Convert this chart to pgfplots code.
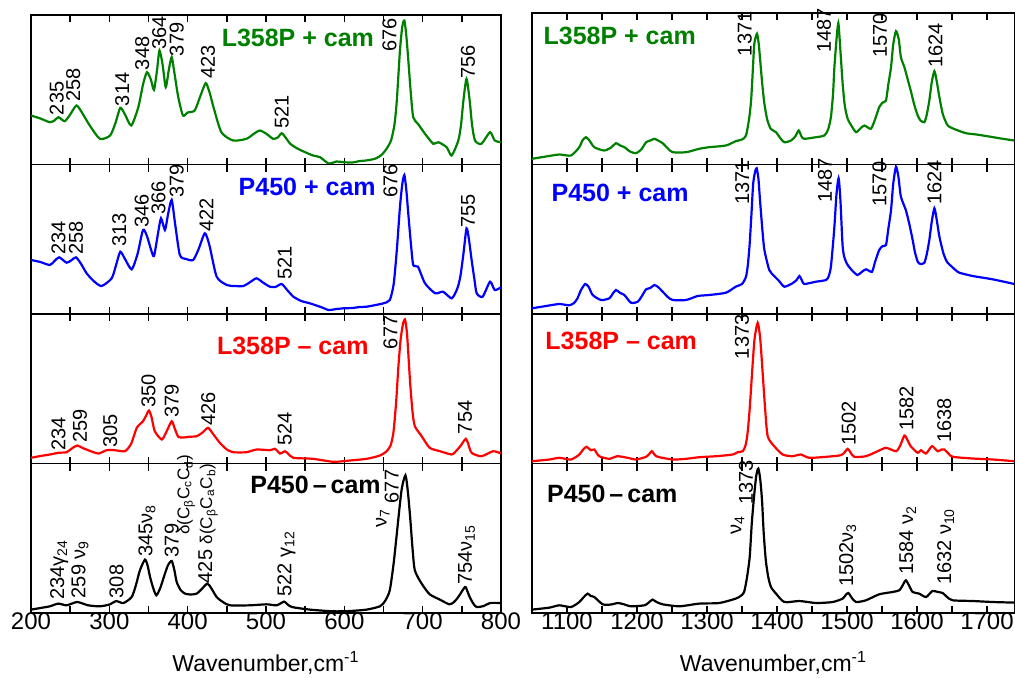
\documentclass[border=0pt]{standalone}
\usepackage{fontspec}
\setmainfont{Liberation Sans}
\usepackage{pgfplots}
\pgfplotsset{compat=1.18}
\definecolor{dgreen}{RGB}{0,128,0}
\newcommand\lab{\fontsize{10}{12}\selectfont}
\newcommand\dlab{\fontsize{8.5}{10}\selectfont}
\newcommand\ttl{\bfseries\fontsize{12.5}{15}\selectfont}
\newcommand\pl[3]{\node[rotate=90,anchor=west,inner sep=0pt,font=\lab] at (axis cs:#1,#2) {#3};}
\pgfplotsset{
  panel/.style={scale only axis, height=74.75pt, ymin=0, ymax=149.5, ytick=\empty, clip=false,
    tick align=inside, major tick length=3.5pt, minor tick length=3.5pt,
    axis line style={line width=0.9pt}, every tick/.style={black, line width=0.7pt},
    /pgf/number format/assume math mode=true, /pgf/number format/set thousands separator={},
    anchor=south west,
    every axis plot/.append style={line width=1.1pt, mark=none, smooth, tension=0.4},
    xticklabel style={font=\fontsize{12}{14}\selectfont, anchor=base, yshift=-8.4pt},
    xlabel style={font=\fontsize{11.5}{14}\selectfont, at={(axis description cs:0.5,0)}, anchor=base, yshift=-29pt}},
  leftp/.style={panel, width=235pt, xmin=200, xmax=800, xtick={200,300,...,800}, minor xtick={250,350,...,750}},
  rightp/.style={panel, width=241.5pt, xmin=1050, xmax=1740, xtick={1100,1200,...,1700}, minor xtick={1150,1250,...,1650}},
  notl/.style={xticklabels={}},
}
\begin{document}
\begin{tikzpicture}
\path[use as bounding box] (-15.5pt,-32pt) rectangle (492pt,306.5pt);
% ---------------- left column ----------------
\begin{axis}[leftp, notl, at={(0pt,224.25pt)}]
\addplot[dgreen] coordinates {(200,49) (212,46) (224,42.3) (230,44) (235,47.3) (243,43.3) (250,50) (258,59) (265,52) (275,39) (288,25.7) (301,29) (308,42) (314,56.7) (320,50) (328,39) (337,57.3) (343,80) (348,92.3) (353,85) (357,74.7) (361,95) (364,114) (368,100) (372,77.3) (376,95) (379.6,107.3) (383,92) (388,67.3) (394,49) (400,52) (409,54) (416,68) (423,81.3) (428,72) (433,57.3) (443,32.3) (458,24) (475,25.7) (485,31) (492,34) (500,31) (509,25.7) (515,27) (520,31.3) (525,27) (531,20.7) (540,16) (550,12.3) (560,9) (569,7.3) (580,1) (590,3) (599,2.3) (610,2) (620,3.5) (628,4) (640,6) (648,10) (655,17) (660,25) (664,40) (667,64) (671,114) (674,138) (676.6,144) (679,130) (681.7,104) (685,70) (688,47) (694,40.7) (703,30.7) (713.6,20.7) (720,22.3) (730.6,17.3) (737,9) (745.5,24) (749,40) (752,64) (756,85.7) (760,64) (763,40) (766.8,24) (775,20.7) (786,32.3) (792,24) (800,22.3)};
\node[anchor=west,inner sep=0pt,font=\ttl,text=dgreen] at (axis cs:443,126.7) {L358P + cam};
\pl{233}{49}{235}\pl{254}{62.3}{258}\pl{316.6}{58}{314}\pl{342}{94}{348}\pl{363.6}{114.7}{364}
\pl{386}{108}{379}\pl{426}{85.7}{423}\pl{520}{35.7}{521}\pl{657.5}{112.3}{676}\pl{758}{85.7}{756}
\end{axis}
\begin{axis}[leftp, notl, at={(0pt,149.5pt)}]
\addplot[blue] coordinates {(200,54) (212,52) (224,49) (230,53) (236,56.7) (245.5,51.3) (252,54) (257.4,56.7) (264,50) (271,40.7) (280,33) (290,28) (303,35.7) (309,50) (314,62.3) (320,55) (328.5,44.7) (336,60) (343,84) (348,78) (353,65) (357,58) (362,80) (366,95.7) (371,84) (375,100) (379.6,114) (384,90) (390,59) (398,55) (407,54) (414,65) (422,80.7) (428,68) (437,37.3) (450,29) (460,28) (471,28) (480,32) (488,35.7) (497,31) (505,27.3) (512,27) (520,30) (527,24) (535,17.3) (545,13) (556,10.7) (570,7) (580,4) (590,5) (599,5.7) (610,6) (620,7) (628.5,7.3) (640,9) (650,10.7) (658,14) (663,30) (667,64) (671,107) (674,130) (676.6,139) (679,125) (682,97) (685,70) (688,49) (694,47.3) (703,30.7) (716,20.7) (726,22.3) (737,15.7) (744,25) (748,37) (752,60) (756,85.7) (759,75) (762.5,54) (766,35) (769,20.7) (776.6,17.3) (786,32.3) (792,24) (800,26.7)};
\node[anchor=west,inner sep=0pt,font=\ttl,text=blue] at (axis cs:464.7,126.7) {P450 + cam};
\pl{235}{59}{234}\pl{257.4}{59}{258}\pl{312.8}{67.3}{313}\pl{341.3}{85.7}{346}\pl{362.6}{99}{366}
\pl{386}{115.7}{379}\pl{424}{82.3}{422}\pl{524}{34}{521}\pl{659}{115.7}{676}\pl{758}{85.7}{755}
\end{axis}
\begin{axis}[leftp, notl, at={(0pt,74.75pt)}]
\addplot[red] coordinates {(200,5.7) (212,7.5) (224,9) (235,10.7) (245.5,11.3) (252,15) (259,18) (266,15.5) (273,13.3) (286,10) (296.6,13.3) (307,13.3) (320,12.3) (328,20) (335,35.7) (343,42.3) (347,48) (350.6,53) (354,46) (358,32.3) (367,24) (373,32) (379.6,42.3) (383,36) (388,26.7) (395,26) (401,26.7) (411.5,27.3) (419,31) (426,35.7) (432,30) (441,20.7) (450,14) (458,11.3) (475,11.3) (488,14) (505,13.3) (511.5,14.7) (518,10) (524,12.3) (528,10) (535,5.7) (560,4.7) (586,1.7) (607,3) (628.5,4.7) (645.5,8) (654,12.3) (659,18) (662.6,30.7) (666,60) (669,97) (672,125) (675,140) (677.4,144) (680,130) (684,80.7) (687,52) (690,37.3) (698.7,27.3) (709,15.7) (722,12.3) (737,9) (742,12) (748,17.3) (755,24.7) (758,20) (762.5,10.7) (775,7.3) (790,12.3) (800,10)};
\node[anchor=west,inner sep=0pt,font=\ttl,text=red] at (axis cs:437,117.3) {L358P – cam};
\pl{235}{12.3}{234}\pl{262.5}{20.7}{259}\pl{301}{15.7}{305}\pl{350}{55.7}{350}\pl{379.6}{45.7}{379}
\pl{426.4}{37.3}{426}\pl{524}{17.3}{524}\pl{659}{114}{677}\pl{754}{29}{754}
\end{axis}
\begin{axis}[leftp, at={(0pt,0pt)}, xlabel={Wavenumber,cm\textsuperscript{-1}}]
\addplot[black] coordinates {(200,3.4) (212,5) (224,6.7) (235,9.4) (245.5,7.7) (259,11) (273,7.7) (288,6.7) (301,8.7) (308.5,12) (318,10) (328.5,16) (334,28) (339,42.7) (345.5,53.4) (349,47) (352,36) (356,25) (360,17.7) (365,25) (371,39.4) (375,48) (379.6,52) (383,43) (386,31) (391,23) (396.6,19.4) (404,18.5) (411.5,19.4) (418,24) (425,29.4) (430,25) (437,16) (445,11) (454,7.7) (479.6,7.7) (500.9,8.7) (513.6,7.7) (523,11.4) (527,9) (533,6) (556,3.4) (586,1.7) (607,2) (628.5,3.4) (645.5,6.7) (652,12) (658,22.7) (663,50) (667,79.4) (673,122.7) (678,137.7) (681,122) (684,96) (687,65) (690,42.7) (698.7,29.4) (709,18.7) (722,13.4) (734,8.7) (740,11) (745.5,16) (754,26) (757,22) (760,16) (765,9) (769,6) (778,7) (786,10) (800,10)};
\node[anchor=west,inner sep=0pt,font=\ttl] at (axis cs:479.6,127.7) {P450\kern0.16em–\kern0.16em cam};
\pl{236}{12.7}{234γ\textsubscript{24}}\pl{262.5}{14.4}{259 ν\textsubscript{9}}\pl{309}{14.4}{308}
\pl{348}{56}{345ν\textsubscript{8}}\pl{379.6}{55.4}{379}
\node[rotate=90,anchor=west,inner sep=0pt,font=\dlab] at (axis cs:398,77.7) {δ(C\textsubscript{β}C\textsubscript{c}C\textsubscript{d})};
\node[rotate=90,anchor=west,inner sep=0pt,font=\lab] at (axis cs:426,29.4) {425 {\dlab δ(C\textsubscript{β}C\textsubscript{a}C\textsubscript{b})}};
\pl{526}{16}{522 γ\textsubscript{12}}
\pl{649}{84.7}{ν\textsubscript{7}}\pl{660.4}{109.4}{677}
\pl{756}{27.7}{754ν\textsubscript{15}}
\end{axis}
% ---------------- right column ----------------
\begin{axis}[rightp, notl, at={(250.5pt,224.25pt)}, height=75.75pt, ymax=151.5]
\addplot[dgreen] coordinates {(1050,5.7) (1070,8) (1089,10) (1105.7,9) (1117.6,17.3) (1122,24) (1127,27.3) (1132,24) (1139,17.3) (1153,14) (1163,17) (1170,21.3) (1176,19) (1182,17.3) (1190,13) (1198.6,11.3) (1206,15) (1213,22.3) (1219,24) (1224.8,25.7) (1230,24) (1236.7,21.3) (1244,16) (1251,12.3) (1270,12.3) (1289,15.7) (1303,17.3) (1327,19) (1341,23.3) (1350,25) (1355.7,29) (1360,45) (1363,64) (1365.5,95) (1367.6,120.7) (1371.4,130.7) (1374,120) (1376,104) (1379,80) (1382,60.7) (1386,45) (1391,35.7) (1398.6,32.3) (1404,27) (1410.5,22.3) (1420,24) (1426,28) (1431,34) (1435,28) (1439,25.7) (1455.7,27.3) (1467.6,29) (1473,35) (1477,47.3) (1480,70) (1482,97.3) (1485,125) (1487.6,141.3) (1490,120) (1493.8,80.7) (1497,58) (1501,45.7) (1507,38) (1513,32.3) (1519,36) (1525,39) (1534,35.7) (1540,45) (1546,57.3) (1551,62) (1555.7,64) (1559,80) (1562.9,97.3) (1566,120) (1570,133.3) (1574,125) (1577,107.3) (1582,97.3) (1586,87) (1591,74) (1596,60) (1601,49) (1605,44) (1610.5,42.3) (1614,50) (1617.6,64) (1621,82) (1624.8,93.3) (1628,84) (1632,67.3) (1637,50) (1644,39) (1655,35) (1670,31.3) (1685,30) (1703,28) (1720,26) (1739,24)};
\node[anchor=west,inner sep=0pt,font=\ttl,text=dgreen] at (axis cs:1066,128.3) {L358P + cam};
\pl{1354}{108}{1371}\pl{1467}{111.5}{1487}\pl{1547}{106.5}{1570}\pl{1626.5}{96.5}{1624}
\end{axis}
\begin{axis}[rightp, notl, at={(250.5pt,149.5pt)}]
\addplot[blue] coordinates {(1050,5.7) (1070,8) (1089,10) (1103,8.7) (1110,11) (1115,15.7) (1120,24) (1126,30) (1131,27) (1136.7,19) (1148.6,14) (1160.5,15.7) (1165,20) (1170,24) (1176,21) (1182,19) (1191.4,11.3) (1201,12.3) (1207,18) (1213,24.7) (1219,26) (1224.8,29) (1230,27) (1236.7,22.3) (1244,17) (1251,14) (1270,14) (1286.7,18) (1303,19) (1327,21.3) (1341,27.3) (1350,30) (1355.7,37.3) (1358.5,50) (1361,70.7) (1363.5,100) (1366,130.7) (1369,143) (1371,145.7) (1373.5,135) (1375.7,114) (1379,85) (1382,64) (1389,44) (1396,38) (1403,33) (1410.5,27.3) (1422,30.7) (1428,34) (1432,38) (1436,33) (1439,30) (1455.7,32.3) (1470,34) (1474,38) (1477,47.3) (1480,70) (1482,87.3) (1485,120) (1488,135.7) (1490.5,115) (1493.8,67.3) (1497,55) (1501,49) (1508,43) (1515,39) (1521,42) (1527,44.7) (1535.7,42.3) (1540,52) (1546,64) (1551,68) (1555.7,69) (1559,85) (1562.9,104) (1566,130) (1570,147.3) (1573.5,137) (1577,117.3) (1584,104) (1589,90) (1593.8,74) (1597,62) (1601,52.3) (1605,50) (1610.5,51.3) (1614,60) (1617.6,74) (1621,92) (1624.8,105.7) (1628,95) (1632,77.3) (1638,60) (1643,52) (1648.6,48) (1655,44) (1660.5,41.3) (1679.5,38) (1708,34.7) (1739,30)};
\node[anchor=west,inner sep=0pt,font=\ttl,text=blue] at (axis cs:1077.5,120.7) {P450 + cam};
\pl{1350.5}{109}{1371}\pl{1468.5}{110.7}{1487}\pl{1546.5}{107.3}{1570}\pl{1624.8}{109}{1624}
\end{axis}
\begin{axis}[rightp, notl, at={(250.5pt,74.75pt)}]
\addplot[red] coordinates {(1050,2.3) (1075,4) (1089,5.7) (1105.7,4) (1117.6,9) (1123,14) (1128,16.7) (1134,13.3) (1139,14) (1146,7.3) (1160.5,4.7) (1172,7.3) (1186.7,5.7) (1198.6,4) (1213,6.7) (1217,9) (1221,12.3) (1225,9) (1229.5,6.7) (1251,4) (1270,4.7) (1289,6.3) (1313,7.3) (1336.7,9) (1343.8,11.3) (1351,12.3) (1355,18) (1358,30.7) (1361,55) (1365,97.3) (1368,125) (1372.4,140.7) (1376,125) (1379.5,90.7) (1383,55) (1386.7,27.3) (1396,17.3) (1408,9) (1422,7.3) (1434,9) (1446,5.7) (1470,6.7) (1489,8) (1495,10) (1501,14.7) (1505,11) (1510.5,6.7) (1527,7.3) (1543.8,12.3) (1555.7,15.7) (1570,12.3) (1576,18) (1582,28) (1586,24) (1591,17.3) (1601,10.7) (1605.7,13.3) (1612.9,10) (1621.4,17.3) (1629.5,12.3) (1635,14) (1639,14) (1645,10) (1651,6.7) (1679.5,5) (1708,4) (1739,2.3)};
\node[anchor=west,inner sep=0pt,font=\ttl,text=red] at (axis cs:1068.6,122.3) {L358P – cam};
\pl{1350}{104}{1373}\pl{1502.4}{17.3}{1502}\pl{1585}{32.3}{1582}\pl{1639}{20.7}{1638}
\end{axis}
\begin{axis}[rightp, at={(250.5pt,0pt)}, xlabel={Wavenumber,cm\textsuperscript{-1}}]
\addplot[black] coordinates {(1050,3.4) (1075,5.4) (1089,7.7) (1105.7,6) (1117.6,11) (1124,16) (1129.5,19.4) (1134,17) (1139,16) (1151,8.7) (1163,8.5) (1172,10) (1180,9) (1191.4,6.7) (1210.5,7.7) (1216,10) (1222,13.4) (1228,11) (1236.7,8.7) (1260.5,6.7) (1289,9.4) (1317.6,10) (1341,14.4) (1348,17) (1353,21) (1357,35) (1361,56) (1364,90) (1367.6,119.4) (1370.5,138) (1373.3,144.4) (1376,134) (1378.6,112.7) (1381,80) (1384,52.7) (1387.5,36) (1391.4,26) (1398.6,19.4) (1410.5,11) (1432,12) (1455.7,10) (1479.5,11) (1493.8,14.4) (1498,18) (1502,20) (1507,15) (1513,11) (1527,12.7) (1546,18.7) (1565,21) (1574.7,22.7) (1579,27) (1584,32.7) (1589,27) (1593.8,21) (1603,19.4) (1612.9,16) (1622,22) (1630,21) (1636.7,20) (1643,16) (1651,12.7) (1679.5,12) (1708,11) (1739,10.4)};
\node[anchor=west,inner sep=0pt,font=\ttl] at (axis cs:1071,118.7) {P450\kern0.16em–\kern0.16em cam};
\pl{1343.8}{77.7}{ν\textsubscript{4}}\pl{1355.7}{107.7}{1373}
\pl{1501}{26}{1502ν\textsubscript{3}}\pl{1586.7}{37.7}{1584 ν\textsubscript{2}}\pl{1641}{27.7}{1632 ν\textsubscript{10}}
\end{axis}
\end{tikzpicture}
\end{document}
